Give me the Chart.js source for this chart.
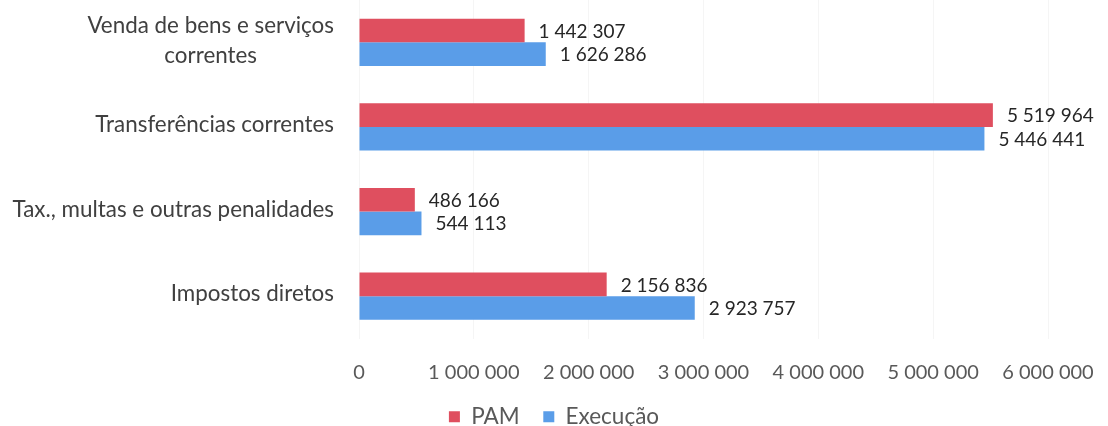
<!DOCTYPE html>
<html><head><meta charset="utf-8">
<script src="https://cdn.jsdelivr.net/npm/chart.js@4/dist/chart.umd.min.js"></script>
<style>html,body{margin:0;padding:0;background:#fff;overflow:hidden}#wrap{width:1108px;height:426px}</style>
</head><body><div id="wrap"><canvas id="c" width="1108" height="426"></canvas></div>
<script>
const categories = [["Venda de bens e serviços","correntes"],"Transferências correntes","Tax., multas e outras penalidades","Impostos diretos"];
const pamValues = [1442307, 5519964, 486166, 2156836];
const execValues = [1626286, 5446441, 544113, 2923757];
const seriesNames = ["PAM", "Execução"];
const xTicks = [0,1000000,2000000,3000000,4000000,5000000,6000000];

const FONT = "Lato, 'Open Sans', sans-serif";
const fmt = v => String(v).replace(/\B(?=(\d{3})+(?!\d))/g, " ");

const labelPlugin = {
  id: 'labels',
  afterDatasetsDraw(chart) {
    const ctx = chart.ctx;
    ctx.save();
    ctx.font = "19px " + FONT;
    ctx.fillStyle = "#262626";
    ctx.textBaseline = "middle";
    ctx.textAlign = "left";
    chart.data.datasets.forEach((ds, di) => {
      chart.getDatasetMeta(di).data.forEach((bar, i) => {
        ctx.fillText(fmt(ds.data[i]), bar.x + 14, bar.y + 1);
      });
    });
    // y category labels, placed by the category scale
    const y = chart.scales.y;
    ctx.font = "22.4px " + FONT;
    ctx.fillStyle = "#404040";
    ctx.textAlign = "center";
    categories.forEach((c, i) => {
      const yc = y.getPixelForValue(i);
      const lines = Array.isArray(c) ? c : [c];
      const maxW = Math.max(...lines.map(l => ctx.measureText(l).width));
      const right = 334;
      const lh = 30;
      lines.forEach((l, k) => {
        ctx.fillText(l, right - maxW / 2, yc - 2 + (k - (lines.length - 1) / 2) * lh);
      });
    });
    ctx.restore();
  }
};

new Chart(document.getElementById('c'), {
  type: 'bar',
  data: {
    labels: categories,
    datasets: [
      { label: seriesNames[0], data: pamValues, backgroundColor: "#DF4F5F", barPercentage: 1, categoryPercentage: 0.557 },
      { label: seriesNames[1], data: execValues, backgroundColor: "#5A9DE8", barPercentage: 1, categoryPercentage: 0.557 }
    ]
  },
  options: {
    indexAxis: 'y',
    responsive: false,
    animation: false,
    devicePixelRatio: 1,
    layout: { padding: { left: 0, right: 0, top: 0, bottom: -12 } },
    scales: {
      x: {
        min: 0, max: 6000000,
        afterBuildTicks: s => { s.ticks = xTicks.map(v => ({ value: v })); },
        afterFit: s => { s.height = 66; s.paddingLeft = 0; s.paddingRight = 0; },
        grid: { color: "rgba(0,0,0,0.04)", drawTicks: false },
        border: { display: false },
        ticks: { padding: 22, color: "#595959", font: { family: FONT, size: 20 }, callback: v => fmt(v) }
      },
      y: {
        afterFit: s => { s.width = 359; },
        grid: { display: false },
        border: { display: false },
        ticks: { display: false }
      },
      yRight: {
        type: 'linear',
        position: 'right',
        display: true,
        afterFit: s => { s.width = 60; },
        grid: { display: false },
        border: { display: false },
        ticks: { display: false }
      }
    },
    plugins: {
      legend: {
        position: 'bottom',
        labels: {
          boxWidth: 11, boxHeight: 11, padding: 1, color: "#595959",
          font: { family: FONT, size: 22.5 },
          generateLabels: chart => {
            const items = Chart.defaults.plugins.legend.labels.generateLabels(chart);
            items.forEach((it, i) => { if (i < items.length - 1) it.text = it.text + "\u2003 "; });
            return items;
          }
        }
      },
      tooltip: { enabled: false }
    }
  },
  plugins: [labelPlugin]
});
</script></body></html>
